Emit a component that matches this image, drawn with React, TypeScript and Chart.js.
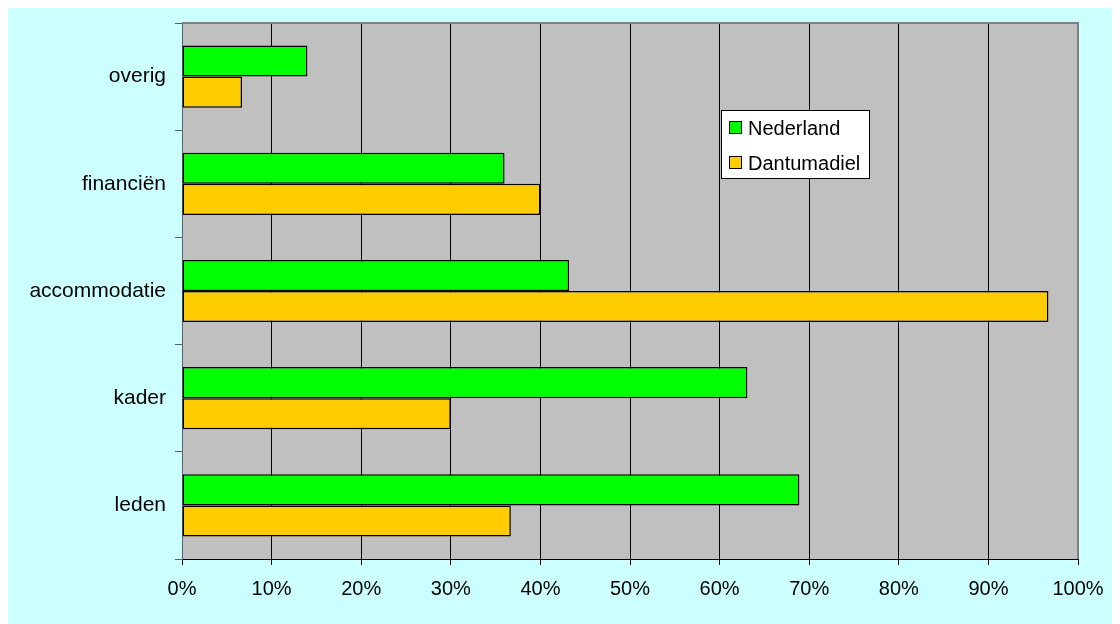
import React, { useEffect, useRef } from "react";
import { Chart, registerables } from "chart.js";

Chart.register(...registerables);

const categories = ["overig", "financiën", "accommodatie", "kader", "leden"];
const nederland = [14.0, 36.0, 43.2, 63.1, 68.9];
const dantumadiel = [6.7, 40.0, 96.7, 30.0, 36.7];
const seriesNames = ["Nederland", "Dantumadiel"];
const seriesColors = ["#00FF00", "#FFCC00"];

const FONT = "'Liberation Sans', Arial, sans-serif";

const plotBg = {
  id: "plotBg",
  beforeDraw(chart: any) {
    const { ctx, chartArea: a } = chart;
    ctx.save();
    ctx.fillStyle = "#C0C0C0";
    ctx.fillRect(a.left, a.top, a.right - a.left, a.bottom - a.top);
    ctx.restore();
  },
  afterDatasetsDraw(chart: any) {
    const { ctx, chartArea: a } = chart;
    ctx.save();
    ctx.strokeStyle = "#808080";
    ctx.lineWidth = 2;
    ctx.beginPath();
    ctx.moveTo(a.left, a.top);
    ctx.lineTo(a.right, a.top);
    ctx.lineTo(a.right, a.bottom);
    ctx.stroke();
    ctx.restore();
  },
};

const boxLegend = {
  id: "boxLegend",
  afterDraw(chart: any) {
    const { ctx, chartArea: a } = chart;
    const x = a.left + 539;
    const y = a.top + 87;
    const w = 148;
    const h = 68;
    ctx.save();
    ctx.fillStyle = "#FFFFFF";
    ctx.fillRect(x, y, w, h);
    ctx.strokeStyle = "#000000";
    ctx.lineWidth = 1;
    ctx.strokeRect(x + 0.5, y + 0.5, w, h);
    ctx.font = `20px ${FONT}`;
    ctx.textBaseline = "middle";
    seriesNames.forEach((name, i) => {
      const cy = y + 18 + i * 35;
      ctx.fillStyle = seriesColors[i];
      ctx.fillRect(x + 8, cy - 6, 12, 12);
      ctx.strokeRect(x + 8.5, cy - 6.5, 12, 12);
      ctx.fillStyle = "#000000";
      ctx.fillText(name, x + 27, cy + 1);
    });
    ctx.restore();
  },
};

export default function App() {
  const ref = useRef<HTMLCanvasElement | null>(null);
  useEffect(() => {
    if (!ref.current) return;
    const chart = new Chart(ref.current, {
      type: "bar",
      data: {
        labels: categories,
        datasets: [
          {
            label: seriesNames[0],
            data: nederland,
            backgroundColor: seriesColors[0],
            borderColor: "#000000",
            borderWidth: 1.5,
            borderSkipped: false,
          },
          {
            label: seriesNames[1],
            data: dantumadiel,
            backgroundColor: seriesColors[1],
            borderColor: "#000000",
            borderWidth: 1.5,
            borderSkipped: false,
          },
        ],
      },
      options: {
        indexAxis: "y",
        animation: false,
        responsive: false,
        maintainAspectRatio: false,
        layout: { padding: { top: 16, right: 42, left: 0, bottom: 0 } },
        datasets: { bar: { categoryPercentage: 0.58, barPercentage: 1 } },
        plugins: { legend: { display: false }, tooltip: { enabled: false } },
        scales: {
          x: {
            min: 0,
            max: 100,
            ticks: {
              stepSize: 10,
              callback: (v: any) => `${v}%`,
              color: "#000000",
              font: { family: FONT, size: 20 },
              padding: 12,
              maxRotation: 0,
            },
            grid: {
              color: "#000000",
              lineWidth: 1,
              tickLength: 6,
              drawOnChartArea: true,
            },
            border: { color: "#000000", width: 1 },
            afterFit: (s: any) => {
              s.height = 65;
              s.paddingRight = 0;
              s.paddingLeft = 0;
            },
          },
          y: {
            offset: true,
            ticks: {
              color: "#000000",
              font: { family: FONT, size: 21 },
              padding: 9,
            },
            grid: {
              offset: true,
              color: "#606060",
              tickLength: 7,
              drawOnChartArea: false,
            },
            border: { color: "#606060", width: 1 },
            afterFit: (s: any) => {
              s.width = 174;
              s.paddingTop = 0;
              s.paddingBottom = 0;
            },
          },
        },
      },
      plugins: [plotBg, boxLegend],
    });
    return () => chart.destroy();
  }, []);
  return (
    <div style={{ width: 1112, height: 617, marginTop: -1, background: "#CCFFFF" }}>
      <canvas ref={ref} width={1112} height={617} style={{ display: "block" }} />
    </div>
  );
}
